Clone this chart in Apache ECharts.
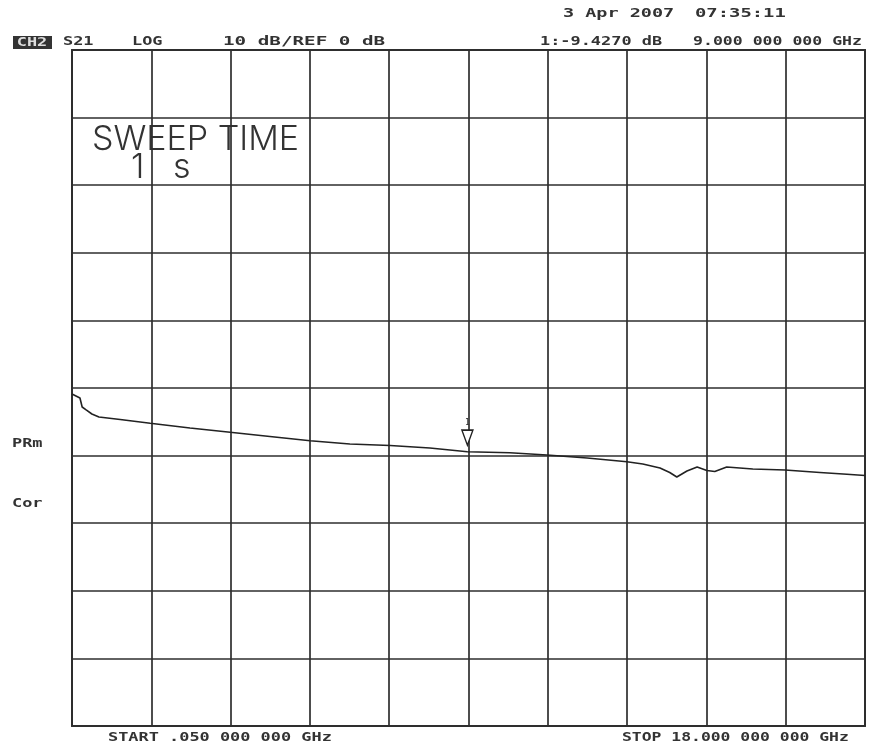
<!DOCTYPE html>
<html>
<head>
<meta charset="utf-8">
<script src="https://cdn.jsdelivr.net/npm/echarts@6/dist/echarts.min.js"></script>
<style>
  html, body { margin: 0; padding: 0; background: #fff; }
  #main { width: 870px; height: 744px; }
</style>
</head>
<body>
<div id="main"></div>
<script>
// 频率 (GHz)
var freqGHz = [0.05, 0.14, 0.23, 0.28, 0.37, 0.50, 0.66, 1.14, 1.82, 2.72, 3.63, 4.53, 5.44,
  6.34, 7.25, 8.15, 9.00, 9.96, 10.80, 11.71, 12.61, 12.97, 13.36, 13.58, 13.74, 13.97,
  14.20, 14.42, 14.60, 14.87, 15.46, 16.19, 16.98, 17.59, 18.00];

// S21 (dB)
var s21dB = [-0.89, -1.18, -1.48, -2.81, -3.25, -3.85, -4.29, -4.66, -5.22, -5.92, -6.55, -7.17, -7.80,
  -8.28, -8.51, -8.88, -9.43, -9.57, -9.91, -10.36, -10.90, -11.24, -11.83, -12.50, -13.17, -12.28,
  -11.69, -12.20, -12.35, -11.69, -11.98, -12.13, -12.50, -12.77, -12.94];

// 标记
var markerFreq = 9.0;
var markerVal = -9.427;

// 屏幕文字
var headLeft = ["S21", "LOG", "10 dB/REF 0 dB"];
var dateText = ["3 Apr 2007", "07:35:11"];
var markerText = ["1:-9.4270 dB", "9.000 000 000 GHz"];
var startText = "START .050 000 000 GHz";
var stopText = "STOP 18.000 000 000 GHz";
var sideText = ["PRm", "Cor"];

var monoFont = 'bold 13px "DejaVu Sans Mono"';
var bigFont = '300 34px Inter';
var ink = '#333';

function txt(str, x, y, sx, font, align) {
    return {
        type: 'text', x: x, y: y, scaleX: sx || 1.3,
        style: { text: str, x: 0, y: 0, font: font || monoFont, fill: ink,
                 align: align || 'left', verticalAlign: 'middle' }
    };
}

var myChart = echarts.init(document.getElementById('main'));

var option = {
    backgroundColor: '#fff',
    animation: false,
    grid: { left: 72, right: 5, top: 50, bottom: 18, show: true,
            borderColor: '#333', borderWidth: 2 },
    xAxis: [
        { type: 'value', min: 0.05, max: 18, show: false },
        { type: 'value', min: 0, max: 10, interval: 1,
          axisLabel: { show: false }, axisTick: { show: false }, axisLine: { show: false },
          splitLine: { show: true, lineStyle: { color: '#2e2e2e', width: 1.7 } } }
    ],
    yAxis: {
        type: 'value', min: -50, max: 50, interval: 10,
        axisLabel: { show: false }, axisTick: { show: false }, axisLine: { show: false },
        splitLine: { show: true, lineStyle: { color: '#2e2e2e', width: 1.7 } }
    },
    series: [{
        type: 'line',
        xAxisIndex: 0,
        data: freqGHz.map(function (f, i) { return [f, s21dB[i]]; }),
        showSymbol: false,
        lineStyle: { color: '#222', width: 1.6 },
        markPoint: {
            data: [{ coord: [markerFreq, markerVal] }],
            symbol: 'triangle',
            symbolRotate: 180,
            symbolSize: [11, 15],
            symbolOffset: [0, -14],
            itemStyle: { color: '#fff', borderColor: '#222', borderWidth: 1.5 },
            label: { show: true, position: 'top', distance: 2, formatter: '1',
                     fontSize: 8, color: '#333', fontFamily: 'DejaVu Sans Mono' }
        }
    }],
    graphic: [
        { type: 'rect', shape: { x: 13, y: 36, width: 39, height: 13 },
          style: { fill: '#333' } },
        { type: 'text', x: 32, y: 43, scaleX: 1.3,
          style: { text: 'CH2', x: 0, y: 0, font: monoFont, fill: '#ddd',
                   align: 'center', verticalAlign: 'middle' } },
        txt(headLeft[0], 63, 42),
        txt(headLeft[1], 132, 42),
        txt(headLeft[2], 223, 42, 1.48),
        txt(dateText[0], 563, 14, 1.42),
        txt(dateText[1], 695, 14, 1.45),
        txt(markerText[0], 540, 42),
        txt(markerText[1], 693, 42, 1.27),
        txt(startText, 108, 738),
        txt(stopText, 622, 738, 1.26),
        txt(sideText[0], 12, 444, 1.3),
        txt(sideText[1], 12, 504, 1.3),
        txt('SWEEP TIME', 92, 140, 1, bigFont),
        txt('1', 131, 168, 1, bigFont),
        txt('s', 173, 168, 1, bigFont)
    ]
};

myChart.setOption(option);
</script>
</body>
</html>
